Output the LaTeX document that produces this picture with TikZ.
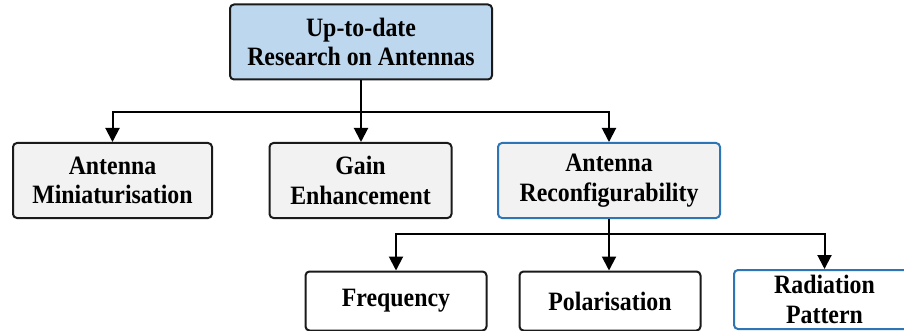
\documentclass[tikz,border=0pt]{standalone}
\usepackage{fontspec}
\setmainfont{Liberation Serif}[FakeStretch=0.9]
\usetikzlibrary{arrows.meta}
\definecolor{topfill}{HTML}{BDD7EE}
\definecolor{grayfill}{HTML}{F2F2F2}
\definecolor{blueedge}{HTML}{2E75B6}
\definecolor{darkedge}{HTML}{1A1A1A}
\begin{document}
\begin{tikzpicture}[x=1pt,y=-1pt,
  box/.style={draw=darkedge,line width=2pt,rounded corners=4pt,align=center,
    font=\fontsize{26.5}{29.5}\selectfont\bfseries,inner sep=0pt},
  rowone/.style={box,fill=grayfill,minimum height=75pt},
  rowtwo/.style={box,fill=white,minimum height=59pt,minimum width=181pt},
  blueb/.style={draw=blueedge},
  conn/.style={line width=2pt,draw=black,-{Triangle[width=14pt,length=14pt]}},
  plain/.style={line width=2pt,draw=black}]
\useasboundingbox (0,0) rectangle (904,331);
\clip (0,0) rectangle (904,331);
\node[box,fill=topfill,minimum width=262pt,minimum height=75pt] (top) at (361,42) {Up-to-date\\Research on Antennas};
\node[rowone,minimum width=199pt] (mini) at (112.5,180.5) {Antenna\\Miniaturisation};
\node[rowone,minimum width=182pt] (gain) at (360.5,180.5) {Gain\\Enhancement};
\node[rowone,blueb,minimum width=222pt] (reconf) at (609,180.5) {Antenna\\Reconfigurability};
\node[rowtwo] (freq) at (396,301) {Frequency};
\node[rowtwo] (pol) at (610,301) {Polarisation};
\node[rowtwo,blueb] (rad) at (824.5,299.5) {Radiation\\Pattern};
\coordinate (bus1) at (361,112);
\coordinate (bus2) at (609,234);
\draw[plain] (top.south) -- (bus1);
\draw[conn] (bus1) -| (mini.north);
\draw[conn] (bus1) -- (gain.north -| bus1);
\draw[conn] (bus1) -| (reconf.north);
\draw[plain] (reconf.south) -- (bus2);
\draw[conn] (bus2) -| (freq.north);
\draw[conn] (bus2) -- (pol.north -| bus2);
\draw[conn] (bus2) -| (rad.north);
\end{tikzpicture}
\end{document}
